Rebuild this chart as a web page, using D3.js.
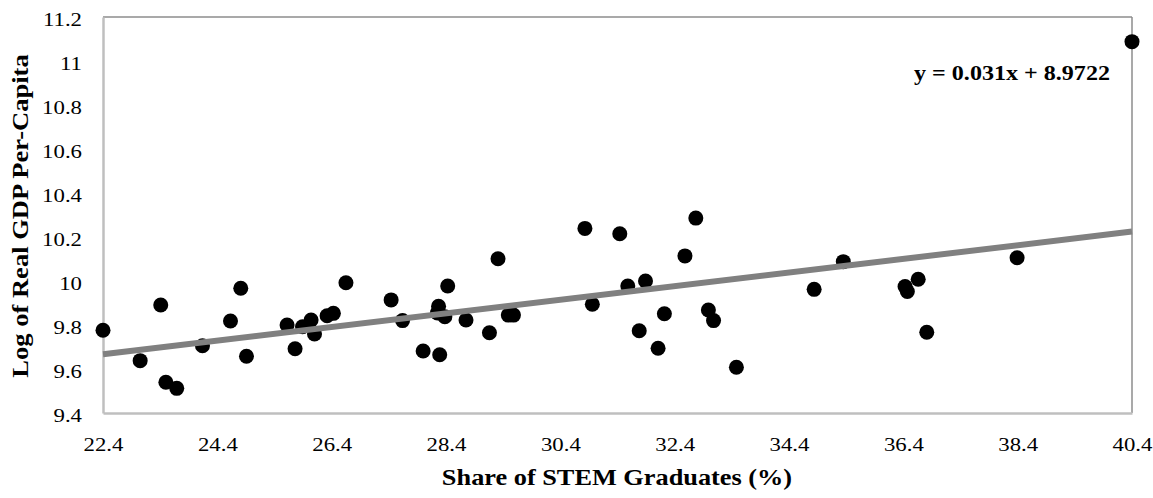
<!DOCTYPE html>
<html>
<head>
<meta charset="utf-8">
<script src="https://cdn.jsdelivr.net/npm/d3@7"></script>
<style>
  html, body { margin: 0; padding: 0; background: #fff; }
  svg { display: block; font-family: "Liberation Serif", "Times New Roman", serif; }
</style>
</head>
<body>
<svg id="chart" width="1153" height="498"></svg>
<script>
// STEM share (%) values
const stemShare = [
  22.4, 23.05, 23.41, 23.50, 23.69, 24.14, 24.63, 24.81, 24.91,
  25.62, 25.76, 25.89, 26.04, 26.10, 26.32, 26.43, 26.65,
  27.44, 27.64, 28.00, 28.27, 28.25, 28.38, 28.29, 28.43, 28.75,
  29.16, 29.31, 29.49, 29.58, 30.83, 30.96, 31.44, 31.58, 31.78,
  31.89, 32.11, 32.22, 32.58, 32.77, 32.99, 33.08, 33.48, 34.84,
  35.35, 36.43, 36.47, 36.66, 36.81, 38.39, 40.4
];
// Log of real GDP per capita values
const logGdp = [
  9.776, 9.638, 9.891, 9.540, 9.512, 9.706, 9.818, 9.967, 9.658,
  9.800, 9.692, 9.792, 9.823, 9.759, 9.842, 9.853, 9.992,
  9.914, 9.820, 9.682, 9.885, 9.855, 9.838, 9.665, 9.977, 9.823,
  9.765, 10.101, 9.845, 9.845, 10.239, 9.894, 10.215, 9.977, 9.774,
  10.000, 9.694, 9.851, 10.114, 10.286, 9.868, 9.820, 9.608, 9.962,
  10.088, 9.975, 9.952, 10.008, 9.767, 10.106, 11.088
];
const xTicks = [22.4, 24.4, 26.4, 28.4, 30.4, 32.4, 34.4, 36.4, 38.4, 40.4];
const yTicks = [9.4, 9.6, 9.8, 10, 10.2, 10.4, 10.6, 10.8, 11, 11.2];
const slope = 0.031, intercept = 8.9722;
const equationLabel = "y = 0.031x + 8.9722";
const xTitle = "Share of STEM Graduates (%)";
const yTitle = "Log of Real GDP Per-Capita";

const svg = d3.select("#chart");
const L = 103, R = 1132, T = 17, B = 413;
const x = d3.scaleLinear().domain([22.4, 40.4]).range([L, R]);
const y = d3.scaleLinear().domain([9.4, 11.2]).range([B, T]);
const FONT = "Liberation Serif, Times New Roman, serif";

// frame top/right
svg.append("line").attr("x1", L).attr("x2", R).attr("y1", T).attr("y2", T)
  .attr("stroke", "#8c8c8c").attr("stroke-width", 1.5);
svg.append("line").attr("x1", R).attr("x2", R).attr("y1", T).attr("y2", B)
  .attr("stroke", "#8c8c8c").attr("stroke-width", 1.5);

// axes
const xAxis = d3.axisBottom(x).tickValues(xTicks).tickSize(0)
  .tickFormat(d => d3.format(".1f")(d));
const gx = svg.append("g").attr("transform", `translate(0,${B})`).call(xAxis);
gx.select(".domain").attr("stroke", "#bfbfbf").attr("stroke-width", 2.5);
gx.selectAll("text").attr("font-size", 19).attr("fill", "#000")
  .attr("font-family", FONT).attr("y", 0).attr("dy", 0)
  .attr("transform", "translate(0,38) scale(1.2,1)");

const yAxis = d3.axisLeft(y).tickValues(yTicks).tickSize(0)
  .tickFormat(d => (Math.round(d * 10) / 10).toString());
const gy = svg.append("g").attr("transform", `translate(${L},0)`).call(yAxis);
gy.select(".domain").attr("stroke", "#bfbfbf").attr("stroke-width", 2.5);
gy.selectAll("text").attr("font-size", 19).attr("fill", "#000")
  .attr("font-family", FONT).attr("x", 0).attr("y", 0).attr("dy", 0)
  .attr("text-anchor", "end")
  .attr("transform", "translate(-21,8.5) scale(1.2,1)");

// points
svg.append("g").selectAll("circle")
  .data(stemShare.map((v, i) => [v, logGdp[i]]))
  .join("circle")
  .attr("cx", d => x(d[0])).attr("cy", d => y(d[1])).attr("r", 7.5)
  .attr("fill", "#000");

// trend line
const xd = x.domain();
svg.append("line")
  .attr("x1", x(xd[0])).attr("y1", y(slope * xd[0] + intercept))
  .attr("x2", x(xd[1])).attr("y2", y(slope * xd[1] + intercept))
  .attr("stroke", "#808080").attr("stroke-width", 6);

// equation
svg.append("text").attr("transform", "translate(1012,80) scale(1.12,1)")
  .attr("text-anchor", "middle")
  .attr("font-size", 21.5).attr("font-weight", "bold").text(equationLabel);

// titles
svg.append("text").attr("transform", "translate(617,485) scale(1.17,1)")
  .attr("text-anchor", "middle")
  .attr("font-size", 22.5).attr("font-weight", "bold").text(xTitle);
svg.append("text").attr("transform", `translate(28,216) rotate(-90) scale(1.13,1)`)
  .attr("text-anchor", "middle")
  .attr("font-size", 23.5).attr("font-weight", "bold").text(yTitle);
</script>
</body>
</html>
